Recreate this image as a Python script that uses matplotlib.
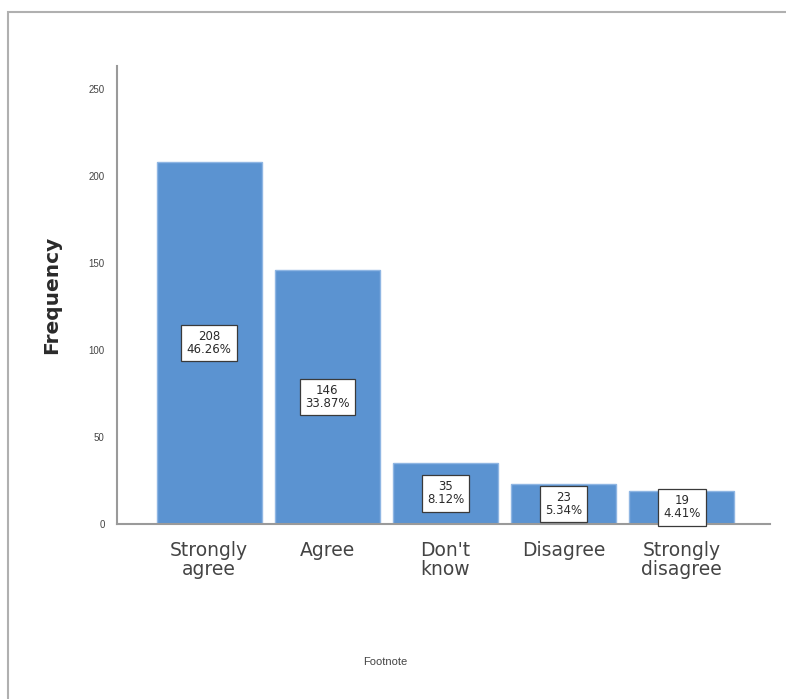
import matplotlib
matplotlib.use('Agg')
import matplotlib.pyplot as plt
import numpy as np
from matplotlib.patches import Rectangle

categories = ['Strongly\nagree', 'Agree', "Don't\nknow", 'Disagree', 'Strongly\ndisagree']
counts = [208, 146, 35, 23, 19]
percents = ['46.26%', '33.87%', '8.12%', '5.34%', '4.41%']

plt.rcParams['font.family'] = ['Liberation Sans', 'DejaVu Sans']

fig = plt.figure(figsize=(7.86, 6.99), dpi=100)
ax = fig.add_axes([0.149, 0.2504, 0.831, 0.6552])

x = np.arange(len(categories))
ax.bar(x, counts, width=0.89, color='#5b93d1', edgecolor='#8fb6e3', linewidth=1.0)

# value / percent boxes at half bar height
for xi, c, p in zip(x, counts, percents):
    ax.text(xi, c / 2, '%d\n%s' % (c, p), ha='center', va='center', fontsize=8.5,
            family='DejaVu Sans', linespacing=1.0, color='#2a2a2a',
            bbox=dict(boxstyle='square,pad=0.45', facecolor='white', edgecolor='#3a3a3a', linewidth=0.9))

ax.set_xlim(-0.78, 4.75)
ax.set_ylim(0, 263)
ax.set_yticks([0, 50, 100, 150, 200, 250])
ax.set_xticks(x)
ax.set_xticklabels(categories, fontsize=13.5, color='#444444', linespacing=1.05,
                   family='DejaVu Sans')
ax.tick_params(axis='y', length=0, labelsize=7, labelcolor='#444444', pad=9)
ax.tick_params(axis='x', length=0, pad=12)

for s in ['top', 'right']:
    ax.spines[s].set_visible(False)
ax.spines['left'].set_color('#9a9a9a')
ax.spines['bottom'].set_color('#9a9a9a')
ax.spines['left'].set_linewidth(1.5)
ax.spines['bottom'].set_linewidth(1.5)

ax.set_ylabel('Frequency', fontsize=14.5, fontweight='bold', color='#2a2a2a',
              family='DejaVu Sans', labelpad=20)
fig.text(0.49, 0.053, 'Footnote', fontsize=8, color='#444444', ha='center', va='center')

# outer frame
fig.patches.append(Rectangle((8 / 786, -0.02), 1.0, 1 - 12 / 699 + 0.02,
                             transform=fig.transFigure, fill=False,
                             edgecolor='#b0b0b0', linewidth=1.5))

fig.savefig('out.png', dpi=100)
